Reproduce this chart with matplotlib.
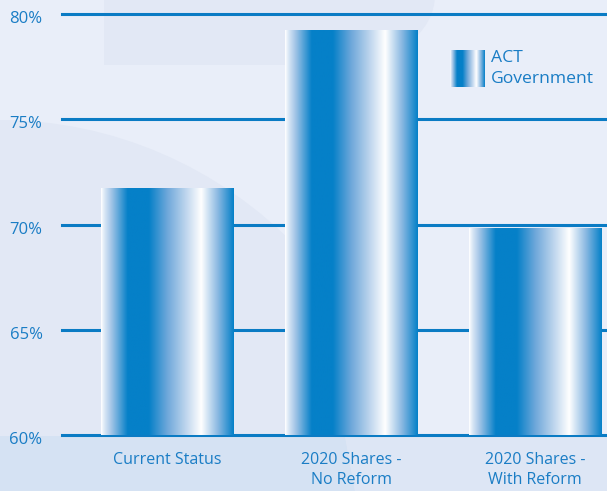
import numpy as np
import matplotlib
matplotlib.use("Agg")
import matplotlib.pyplot as plt
import matplotlib.transforms as mtransforms
from matplotlib.colors import LinearSegmentedColormap
from matplotlib.patches import Rectangle, Ellipse, Polygon

categories = ["Current Status", "2020 Shares -\nNo Reform", "2020 Shares -\nWith Reform"]
values = [71.7, 79.2, 69.8]
yticks = [60, 65, 70, 75, 80]
ytick_labels = ["60%", "65%", "70%", "75%", "80%"]
legend_label = "ACT\nGovernment"

BLUE = "#0a7bc4"
TEXT = "#1a7dc5"
plt.rcParams['font.family'] = ['Open Sans', 'DejaVu Sans']

cmap = LinearSegmentedColormap.from_list(
    "bargrad",
    [(0.0, "#ffffff"), (0.02, "#e0ebf7"), (0.08, "#9fc3e6"), (0.20, "#0580c8"),
     (0.36, "#0580c8"), (0.50, "#6fa8da"), (0.65, "#c4d9ef"), (0.755, "#ffffff"),
     (0.88, "#8bb9e2"), (1.0, "#0580c8")])
grad = np.linspace(0, 1, 512).reshape(1, -1)

W, H = 607, 491
fig = plt.figure(figsize=(W / 100, H / 100), dpi=100)
fig.patch.set_facecolor("#e9eef9")

# background decoration (faint shapes)
bg = fig.add_axes([0, 0, 1, 1], zorder=-10)
bg.set_xlim(0, W); bg.set_ylim(H, 0); bg.axis("off")
SHADE = "#e2e8f5"
bg.add_patch(Rectangle((104, -5), 240, 70, facecolor=SHADE, edgecolor="none"))
bg.add_patch(Ellipse((340, -5), 190, 140, facecolor=SHADE, edgecolor="none"))
bg.add_patch(Ellipse((0, 560), 845, 880, facecolor=SHADE, edgecolor="none"))
bg.add_patch(Polygon([(0, 436), (345, 436), (355, 491), (0, 491)], closed=True,
                     facecolor="#d5e2f3", edgecolor="none"))
bg.add_patch(Polygon([(345, 436), (607, 436), (607, 491), (355, 491)], closed=True,
                     facecolor="#dde6f5", edgecolor="none"))

ax_left, ax_right = 62, 607
ax_top, ax_bottom = 14, 435
ax = fig.add_axes([ax_left / W, 1 - ax_bottom / H, (ax_right - ax_left) / W, (ax_bottom - ax_top) / H])
ax.patch.set_alpha(0)
for s in ax.spines.values():
    s.set_visible(False)

for y in yticks:
    ax.axhline(y, color=BLUE, lw=2.2, zorder=1, clip_on=False)

width = 0.72
x = np.arange(len(categories))
bars = ax.bar(x, [v - 60 for v in values], bottom=60, width=width, color="none", zorder=2)
for b in bars:
    x0, y0 = b.get_x(), b.get_y()
    ax.imshow(grad, cmap=cmap, aspect="auto", extent=(x0, x0 + b.get_width(), y0, y0 + b.get_height()),
              zorder=2, interpolation="bilinear")
ax.set_xlim(-0.573, 2.391)
ax.set_ylim(60, 80)

ax.set_yticks(yticks)
ax.set_yticklabels(ytick_labels)
ax.set_xticks(x)
ax.set_xticklabels(categories, linespacing=1.35)
ax.tick_params(axis="y", length=0, pad=14, labelsize=12, labelcolor=TEXT)
ax.tick_params(axis="x", length=0, pad=12, labelsize=11.5, labelcolor=TEXT)
for lab in ax.get_yticklabels():
    lab.set_transform(lab.get_transform() + mtransforms.ScaledTranslation(0, -3 / 100, fig.dpi_scale_trans))

# legend
lax = fig.add_axes([450 / W, 1 - 87 / H, 35 / W, 37 / H])
lax.imshow(grad, cmap=cmap, aspect="auto", interpolation="bilinear")
lax.axis("off")
fig.text(491 / W, 1 - 68.5 / H, legend_label, color=TEXT, fontsize=12.6, va="center", ha="left",
         linespacing=1.42)

fig.savefig("out.png", dpi=100, facecolor=fig.get_facecolor())
